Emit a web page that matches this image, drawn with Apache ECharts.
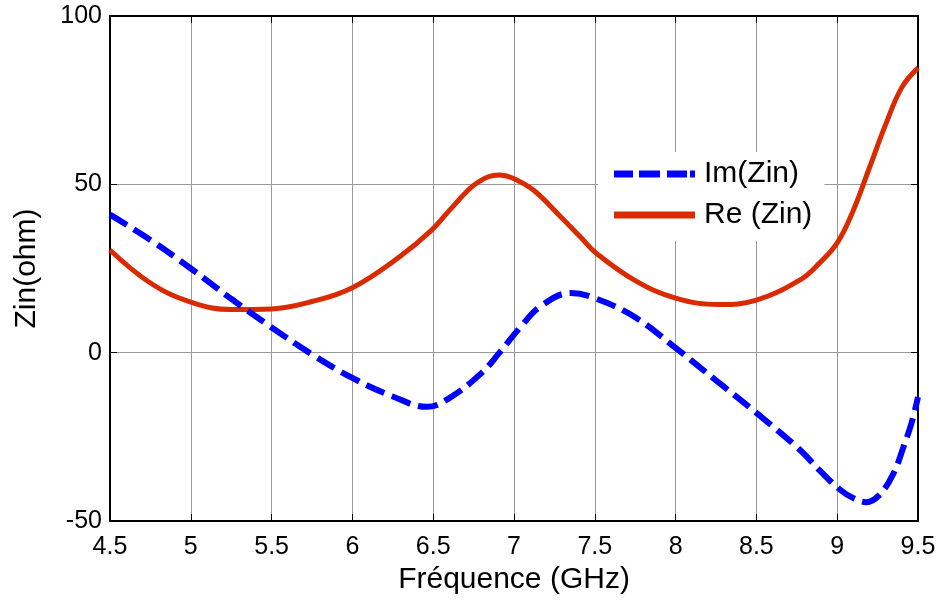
<!DOCTYPE html>
<html><head><meta charset="utf-8">
<script src="https://cdn.jsdelivr.net/npm/echarts@6/dist/echarts.min.js"></script>
<style>html,body{margin:0;padding:0;background:#fff}#c{width:942px;height:604px}</style>
</head><body><div id="c"></div>
<script>
const reFreq = [4.5, 4.75, 5.0, 5.25, 5.5, 5.75, 6.0, 6.29, 6.49, 6.62, 6.77, 6.91, 6.99, 7.12, 7.29, 7.41, 7.51, 7.75, 8.0, 8.27, 8.5, 8.77, 8.89, 9.0, 9.1, 9.2, 9.3, 9.4, 9.5];
const reVals = [30.5, 20.7, 15.0, 12.8, 13.0, 15.2, 19.3, 28.4, 36.4, 43.3, 50.4, 52.8, 51.9, 48.3, 40.3, 34.4, 29.5, 21.4, 16.2, 14.3, 15.6, 21.6, 26.6, 32.6, 42.3, 55.0, 67.8, 78.8, 84.6];
const imFreq = [4.5, 4.75, 5.0, 5.25, 5.5, 5.75, 6.0, 6.25, 6.46, 6.6, 6.8, 6.91, 7.04, 7.16, 7.35, 7.5, 7.75, 8.0, 8.27, 8.5, 8.77, 8.89, 9.02, 9.1, 9.18, 9.26, 9.35, 9.41, 9.46, 9.5];
const imVals = [41.0, 33.5, 25.0, 16.0, 7.5, -0.5, -7.5, -13.0, -16.1, -13.5, -6.0, 0.0, 7.6, 13.6, 17.7, 16.2, 10.5, 1.4, -9.0, -17.9, -28.9, -34.9, -40.8, -43.2, -44.4, -42.3, -35.7, -28.0, -20.9, -13.2];
const xTicks = [4.5, 5, 5.5, 6, 6.5, 7, 7.5, 8, 8.5, 9, 9.5];
const yTicks = [-50, 0, 50, 100];
const names = ['Im(Zin)', 'Re (Zin)'];

const font = 'Liberation Sans, Arial, sans-serif';
const chart = echarts.init(document.getElementById('c'), null, {renderer: 'canvas'});
const axLine = {show: true, onZero: false, lineStyle: {color: '#000', width: 2}};
const ticks = {show: true, inside: true, length: 7, lineStyle: {color: '#000', width: 1}};
const gridLine = {show: true, lineStyle: {color: '#999', width: 1}};
const BLUE = '#0000ff', RED = '#d92a00';
chart.setOption({
  animation: false,
  backgroundColor: '#fff',
  grid: {left: 110, right: 24, top: 16, bottom: 83},
  legend: {
    orient: 'vertical', left: 598, top: 152,
    backgroundColor: '#fff', padding: [7, 12, 11, 16],
    itemWidth: 81, itemHeight: 7, itemGap: 11,
    textStyle: {fontFamily: font, fontSize: 30, color: '#000', padding: [0, 0, 0, 4]},
    data: [
      {name: names[0], icon: 'path://M0,0h19v7h-19z M25,0h21v7h-21z M53,0h20v7h-20z M76,0h5v7h-5z', itemStyle: {color: BLUE}},
      {name: names[1], icon: 'path://M0,0h81v7h-81z', itemStyle: {color: RED}}
    ]
  },
  xAxis: [{
    type: 'value', min: 4.5, max: 9.5, interval: 0.5,
    name: 'Fréquence (GHz)', nameLocation: 'middle', nameGap: 41,
    nameTextStyle: {fontFamily: font, fontSize: 30, color: '#000'},
    axisLine: axLine, axisTick: ticks,
    axisLabel: {fontFamily: font, fontSize: 25, color: '#000', margin: 14,
      formatter: v => xTicks.includes(+v.toFixed(2)) ? String(+v.toFixed(2)) : ''},
    splitLine: gridLine
  }, {
    type: 'value', position: 'top', min: 4.5, max: 9.5, interval: 0.5,
    axisLine: axLine, axisTick: ticks,
    axisLabel: {show: false}, splitLine: {show: false}
  }],
  yAxis: [{
    type: 'value', min: -50, max: 100, interval: 50,
    name: 'Zin(ohm)', nameLocation: 'middle', nameGap: 68, nameRotate: 90,
    nameTextStyle: {fontFamily: font, fontSize: 30, color: '#000'},
    axisLine: axLine, axisTick: ticks,
    axisLabel: {fontFamily: font, fontSize: 25, color: '#000', margin: 8,
      formatter: v => yTicks.includes(v) ? String(v) : ''},
    splitLine: gridLine
  }, {
    type: 'value', position: 'right', min: -50, max: 100, interval: 50,
    axisLine: axLine, axisTick: ticks,
    axisLabel: {show: false}, splitLine: {show: false}
  }],
  series: [{
    name: names[0], type: 'line', smooth: 0.4, symbol: 'none', z: 3,
    data: imFreq.map((f, i) => [f, imVals[i]]),
    lineStyle: {color: BLUE, width: 6, type: [20, 8]},
    itemStyle: {color: BLUE}
  }, {
    name: names[1], type: 'line', smooth: 0.4, symbol: 'none', z: 2,
    data: reFreq.map((f, i) => [f, reVals[i]]),
    lineStyle: {color: RED, width: 5},
    itemStyle: {color: RED}
  }]
});
</script></body></html>
